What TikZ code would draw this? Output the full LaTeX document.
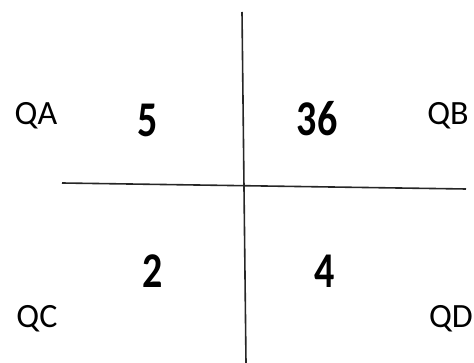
\documentclass[tikz,border=0pt]{standalone}
\usepackage{fontspec}
\setmainfont{Carlito}
\tikzset{
  quad/.style={inner sep=0pt, anchor=base, font=\fontsize{34}{38}\selectfont},
  num/.style={inner sep=0pt, anchor=base, yscale=1.25, font=\fontsize{40}{44}\selectfont\bfseries},
  axis/.style={line width=1.6pt, black!85}
}
\begin{document}
\begin{tikzpicture}[x=1pt,y=-1pt]
\useasboundingbox (0,0) rectangle (474,363);
\coordinate (vtop) at (242,12);
\coordinate (vbot) at (246,363);
\coordinate (hleft) at (62,183);
\coordinate (hright) at (466,189);
\draw[axis] (vtop) -- (vbot);
\draw[axis] (hleft) -- (hright);
\node[quad] (qa) at (36,125) {QA};
\node[quad] (qb) at (448,125) {QB};
\node[quad] (qc) at (37,328) {QC};
\node[quad] (qd) at (451,328) {QD};
\node[num] (n5) at (148,137) {5};
\node[num] (n36) at (317,136) {36};
\node[num] (n2) at (153,288) {2};
\node[num] (n4) at (325,288) {4};
\end{tikzpicture}
\end{document}
